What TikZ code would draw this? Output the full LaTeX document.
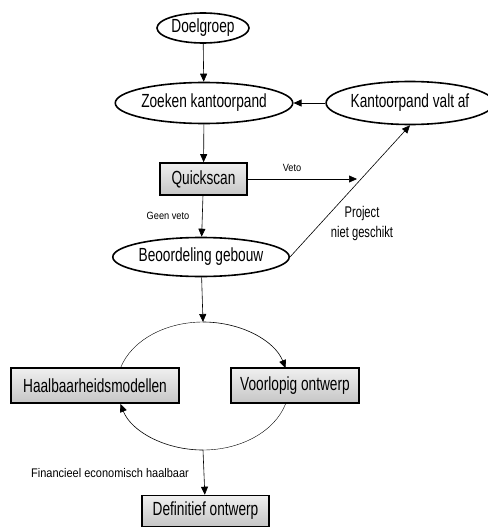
\documentclass[tikz,border=0pt]{standalone}
\usepackage{fontspec}
\setmainfont{Liberation Sans}
\newfontfamily\boxfont{Liberation Sans}[FakeStretch=0.72]
\newfontfamily\lblfont{Liberation Sans}[FakeStretch=0.88]
\usetikzlibrary{shapes.geometric, arrows.meta, positioning}

\begin{document}
\begin{tikzpicture}[x=1pt, y=1pt,
    oval/.style={ellipse, draw, line width=1.6pt, inner sep=0pt, font=\boxfont\fontsize{19}{21}\selectfont},
    block/.style={rectangle, draw, line width=1.6pt, inner sep=0pt, top color=gray!12, bottom color=gray!45, font=\boxfont\fontsize{19}{21}\selectfont},
    arr/.style={-{Triangle[length=8pt, width=7pt]}, line width=0.6pt},
    lbl/.style={font=\lblfont\fontsize{10.5}{12}\selectfont}]
    \useasboundingbox (0,0) rectangle (487,-527);
    \node [oval, minimum width=92, minimum height=30] (doel) at (203,-28) {Doelgroep};
    \node [oval, minimum width=148, minimum height=41] (zoek) at (204,-103) {Zoeken kantoorpand};
    \node [oval, minimum width=145, minimum height=43] (valt) at (410,-103) {Kantoorpand valt af};
    \node [block, minimum width=87, minimum height=32] (quick) at (203.5,-179) {Quickscan};
    \node [oval, minimum width=168, minimum height=39] (beoord) at (201,-257) {Beoordeling gebouw};
    \node [block, minimum width=168, minimum height=35] (haalb) at (95,-385.5) {Haalbaarheidsmodellen};
    \node [block, minimum width=128, minimum height=35] (voorl) at (295,-385.5) {Voorlopig ontwerp};
    \node [block, minimum width=127, minimum height=31] (defin) at (205.5,-511) {Definitief ontwerp};
    \coordinate (veto) at (357,-179);
    \coordinate (top) at (203,-322);
    \coordinate (bot) at (203,-450);

    \draw [arr] (doel) -- (zoek);
    \draw [arr] (valt) -- (zoek);
    \draw [arr] (zoek) -- (quick);
    \draw [arr] (quick) -- (beoord);
    \draw [arr] (quick) -- (veto);
    \draw [arr] (beoord.east) -- (valt.south);
    \draw [arr] (beoord) -- (top);
    \node [lbl] (vetolbl) at (292,-168) {Veto};
    \node [lbl] (geenlbl) at (168,-216) {Geen veto};
    \node [font=\boxfont\fontsize{15.5}{20}\selectfont, align=center] (projlbl) at (362,-223) {Project\\niet geschikt};

    % cycle between the two models
    \draw (top) arc[start angle=90, end angle=163.7, x radius=86, y radius=64];
    \draw [arr] (top) arc[start angle=90, end angle=16.3, x radius=86, y radius=64];
    \draw (bot) arc[start angle=270, end angle=343.7, x radius=86, y radius=64];
    \draw [arr] (bot) arc[start angle=270, end angle=196.3, x radius=86, y radius=64];
    \draw [arr] (bot) -- (defin);
    \node [lbl, font=\lblfont\fontsize{12.5}{14}\selectfont] (finlbl) at (110,-473) {Financieel economisch haalbaar};
\end{tikzpicture}
\end{document}
